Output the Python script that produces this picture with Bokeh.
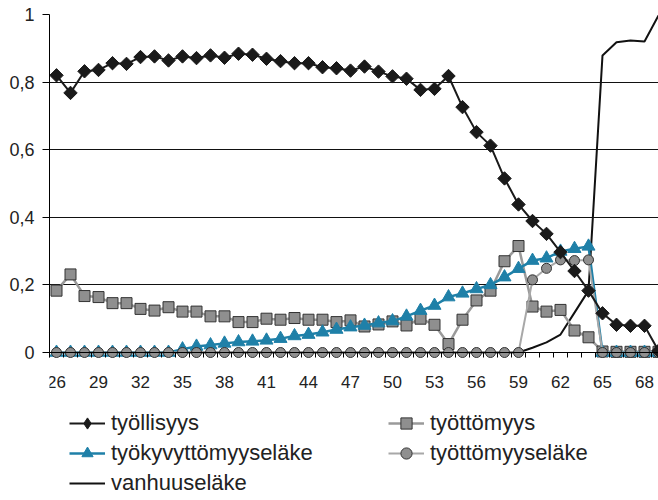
import numpy as np
from bokeh.plotting import figure
from bokeh.models import (ColumnDataSource, Range1d, FixedTicker, CustomJSTickFormatter,
                          Legend, LegendItem)
from bokeh.embed import file_html
from bokeh.resources import INLINE

# ---------------- data ----------------
ages = list(range(26, 70))

tyollisyys = [0.820, 0.768, 0.832, 0.836, 0.856, 0.854, 0.874, 0.876, 0.864, 0.876,
              0.871, 0.879, 0.872, 0.884, 0.881, 0.869, 0.862, 0.856, 0.856, 0.844,
              0.841, 0.834, 0.846, 0.831, 0.817, 0.810, 0.777, 0.780, 0.818, 0.726,
              0.652, 0.612, 0.515, 0.438, 0.389, 0.351, 0.297, 0.241, 0.183, 0.116,
              0.082, 0.079, 0.079, 0.005]

tyottomyys = [0.183, 0.231, 0.167, 0.164, 0.146, 0.146, 0.129, 0.124, 0.134, 0.121,
              0.121, 0.107, 0.107, 0.090, 0.090, 0.100, 0.097, 0.102, 0.097, 0.097,
              0.090, 0.095, 0.077, 0.083, 0.092, 0.080, 0.100, 0.082, 0.025, 0.097,
              0.154, 0.183, 0.270, 0.315, 0.136, 0.121, 0.126, 0.065, 0.045, 0.003,
              0.002, 0.002, 0.002, 0.002]

tyokyvyttomyyselake = [0.0, 0.0, 0.0, 0.0, 0.0, 0.0, 0.0, 0.0, 0.0, 0.010,
                       0.018, 0.022, 0.027, 0.031, 0.033, 0.036, 0.041, 0.049, 0.053, 0.060,
                       0.068, 0.075, 0.080, 0.087, 0.093, 0.107, 0.124, 0.139, 0.164, 0.175,
                       0.188, 0.200, 0.223, 0.248, 0.272, 0.279, 0.299, 0.307, 0.314, 0.0,
                       0.0, 0.0, 0.0, 0.0]

tyottomyyselake = [0.0] * 34 + [0.215, 0.249, 0.274, 0.272, 0.274, 0.0, 0.0, 0.0, 0.0, 0.0]

vanhuuselake = [0.0] * 34 + [0.014, 0.030, 0.053, 0.118, 0.183, 0.879, 0.918, 0.923, 0.920, 0.997]

x_tick_ages = list(range(26, 69, 3))
x_boundaries = [a - 0.5 for a in ages]
y_ticks = [0, 0.2, 0.4, 0.6, 0.8, 1.0]
grid_values = [0.2, 0.4, 0.6, 0.8, 1.0]

labels = ["työllisyys", "työttömyys", "työkyvyttömyyseläke", "työttömyyseläke", "vanhuuseläke"]

# ---------------- layout ----------------
W, H = 658, 500
BORDER_LEFT, BORDER_TOP = 49, 14
PX_PER_UNIT = 338.0
frame_h = H - BORDER_TOP
y_start = 1.0 - frame_h / PX_PER_UNIT

FONT = "Liberation Sans"
TEAL = "#1f80a8"

src = ColumnDataSource(dict(age=ages, ty=tyollisyys, tt=tyottomyys, tk=tyokyvyttomyyselake,
                            te=tyottomyyselake, va=vanhuuselake))

p = figure(width=W, height=H, output_backend="svg", toolbar_location=None,
           x_range=Range1d(25.5, 69.0), y_range=Range1d(y_start, 1.0),
           min_border_left=BORDER_LEFT, min_border_right=0,
           min_border_top=BORDER_TOP, min_border_bottom=0)
p.outline_line_color = None
p.background_fill_color = "white"
p.border_fill_color = "white"

# x axis drawn at y = 0
xa = p.xaxis[0]
xa.fixed_location = 0
xa.ticker = FixedTicker(ticks=x_tick_ages, minor_ticks=x_boundaries)
xa.axis_line_color = "black"
xa.axis_line_width = 1
xa.major_tick_line_color = None
xa.major_tick_out = 0
xa.major_tick_in = 0
xa.minor_tick_line_color = "black"
xa.minor_tick_out = 5
xa.minor_tick_in = 0
xa.major_label_standoff = 18
xa.major_label_text_font = FONT
xa.major_label_text_font_size = "17px"
xa.major_label_text_color = "#222222"

ya = p.yaxis[0]
ya.ticker = FixedTicker(ticks=y_ticks)
ya.bounds = (-0.015, 1.0)
ya.axis_line_color = "black"
ya.major_tick_line_color = "black"
ya.major_tick_out = 7
ya.major_tick_in = 0
ya.minor_tick_line_color = None
ya.major_label_standoff = 8
ya.major_label_text_font = FONT
ya.major_label_text_font_size = "18px"
ya.major_label_text_color = "#222222"
ya.formatter = CustomJSTickFormatter(code="""
    if (Math.abs(tick) < 1e-9) return '0';
    if (Math.abs(tick - 1) < 1e-9) return '1';
    return tick.toFixed(1).replace('.', ',');
""")

p.xgrid.visible = False
p.ygrid.ticker = FixedTicker(ticks=grid_values)
p.ygrid.grid_line_color = "#111111"
p.ygrid.grid_line_width = 1

# ---------------- series ----------------
r_va = p.line("age", "va", source=src, line_color="#111111", line_width=2)

r_tt_l = p.line("age", "tt", source=src, line_color="#9a9a9a", line_width=2.5)
r_tt_m = p.scatter("age", "tt", source=src, marker="square", size=11,
                   fill_color="#8f8f8f", line_color="#333333", line_width=1)

r_tk_l = p.line("age", "tk", source=src, line_color=TEAL, line_width=2.5)
r_tk_m = p.scatter("age", "tk", source=src, marker="triangle", size=13,
                   fill_color=TEAL, line_color=TEAL, line_width=1)

r_te_l = p.line("age", "te", source=src, line_color="#a8a8a8", line_width=2)
r_te_m = p.scatter("age", "te", source=src, marker="circle", size=10,
                   fill_color="#8f8f8f", line_color="#333333", line_width=1)

r_ty_l = p.line("age", "ty", source=src, line_color="#1a1a1a", line_width=2)
r_ty_m = p.scatter("age", "ty", source=src, marker="square", angle=np.pi / 4, size=9.5,
                   fill_color="#1a1a1a", line_color="#1a1a1a", line_width=1)
# legend-only diamond (legend glyphs ignore marker angle)
r_ty_key = p.scatter("age", "ty", source=src, marker="diamond", size=12,
                     fill_color="#1a1a1a", line_color="#1a1a1a", line_width=1, visible=False)

legend = Legend(items=[
    LegendItem(label=labels[0], renderers=[r_ty_l, r_ty_key]),
    LegendItem(label=labels[1], renderers=[r_tt_l, r_tt_m]),
    LegendItem(label=labels[2], renderers=[r_tk_l, r_tk_m]),
    LegendItem(label=labels[3], renderers=[r_te_l, r_te_m]),
    LegendItem(label=labels[4], renderers=[r_va]),
], location=(20, 2), orientation="horizontal", ncols=2)
legend.border_line_color = None
legend.background_fill_alpha = 0
legend.padding = 0
legend.margin = 0
legend.spacing = 0
legend.glyph_width = 36
legend.glyph_height = 28
legend.label_standoff = 6
legend.label_width = 277
legend.label_height = 30
legend.label_text_font = FONT
legend.label_text_font_size = "22px"
legend.label_text_color = "#222222"
p.add_layout(legend)

open("out.html", "w").write(file_html(p, INLINE))
